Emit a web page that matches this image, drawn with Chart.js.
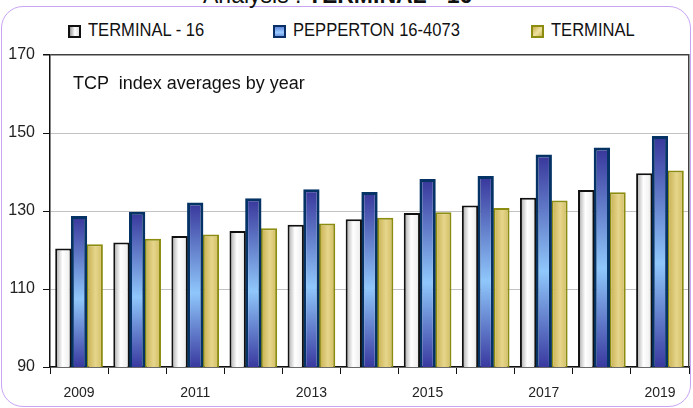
<!DOCTYPE html>
<html>
<head>
<meta charset="utf-8">
<script src="https://cdn.jsdelivr.net/npm/chart.js@4.4.7/dist/chart.umd.min.js"></script>
<style>
  html, body { margin: 0; padding: 0; background: #fff; }
  #wrap { position: relative; width: 693px; height: 408px; overflow: hidden; font-family: 'Liberation Sans', Arial, sans-serif; }
  #frame { position: absolute; left: 1px; top: 6px; width: 688px; height: 399px; border: 1.5px solid #c8a4f4; border-radius: 22px; }
  #title { position: absolute; left: 203px; top: -18px; font-size: 23px; color: #111; white-space: pre; }
  #title b { font-weight: bold; }
  .leg { position: absolute; top: 25px; height: 14px; }
  .leg i { position: absolute; left: 0; top: 0; width: 9px; height: 9px; border: 2px solid; }
  .leg span { position: absolute; left: 20px; top: -5px; font-size: 18px; color: #111; white-space: nowrap; transform: scaleX(0.92); transform-origin: left top; }
  #note { position: absolute; left: 73px; top: 73px; font-size: 18px; color: #111; white-space: pre; }
  canvas { position: absolute; left: 0; top: 0; }
</style>
</head>
<body>
<div id="wrap">
  <div id="frame"></div>
  <div id="title">Analysis : <b>TERMINAL - 16</b></div>
  <div class="leg" style="left:68px"><i style="border-color:#111;background:linear-gradient(90deg,#9a9a9a,#fff 55%,#ddd)"></i><span>TERMINAL - 16</span></div>
  <div class="leg" style="left:273px"><i style="border-color:#0a2f66;background:linear-gradient(180deg,#5f86d8,#9cccff 60%,#6f98e0)"></i><span>PEPPERTON 16-4073</span></div>
  <div class="leg" style="left:531px"><i style="border-color:#8c8c10;background:linear-gradient(135deg,#c9b04f,#efe2a0 55%,#cdb85c)"></i><span>TERMINAL</span></div>
  <canvas id="chart" width="693" height="408"></canvas>
  <div id="note">TCP  index averages by year</div>
</div>
<script>
// data
const YEARS = ['2009', '2010', '2011', '2012', '2013', '2014', '2015', '2016', '2017', '2018', '2019'];
const TERMINAL_16 = [120.4, 121.9, 123.6, 124.9, 126.5, 127.9, 129.5, 131.4, 133.4, 135.4, 139.7];
const PEPPERTON = [128.7, 129.8, 132.2, 133.3, 135.6, 134.9, 138.2, 139.0, 144.5, 146.3, 149.2];
const TERMINAL = [121.5, 122.9, 124.0, 125.6, 126.8, 128.3, 129.7, 130.8, 132.7, 134.8, 140.4];
const Y_TICKS = [90, 110, 130, 150, 170];

const CAT_PCT = 0.81;
const BAR_PCT = 1.04;
const TICK_FONT = { family: "'Liberation Sans', Arial, sans-serif", size: 16 };

// horizontal span of one bar, so each bar gets its own gradient
function barSpan(ctx) {
  const xs = ctx.chart.scales.x;
  const cx = xs.getPixelForValue(ctx.dataIndex);
  const groupW = (xs.width / YEARS.length) * CAT_PCT;
  const slot = groupW / 3;
  const mid = cx - groupW / 2 + (ctx.datasetIndex + 0.5) * slot;
  const half = (slot * BAR_PCT) / 2;
  return { left: mid - half, right: mid + half };
}

function whiteFill(ctx) {
  if (!ctx.chart.chartArea || ctx.type !== 'data') return '#eeeeee';
  const { left, right } = barSpan(ctx);
  const g = ctx.chart.ctx.createLinearGradient(left, 0, right, 0);
  g.addColorStop(0, '#8e8e8e');
  g.addColorStop(0.18, '#c9c9c9');
  g.addColorStop(0.45, '#ffffff');
  g.addColorStop(0.8, '#f1f1f1');
  g.addColorStop(1, '#d6d6d6');
  return g;
}

function blueFill(ctx) {
  if (!ctx.chart.chartArea || ctx.type !== 'data') return '#6f9be0';
  const ys = ctx.chart.scales.y;
  const top = ys.getPixelForValue(ctx.raw);
  const bot = ys.getPixelForValue(90);
  const g = ctx.chart.ctx.createLinearGradient(0, top, 0, bot);
  g.addColorStop(0, '#37359a');
  g.addColorStop(0.55, '#8fc7fb');
  g.addColorStop(1, '#39399f');
  return g;
}

function goldFill(ctx) {
  if (!ctx.chart.chartArea || ctx.type !== 'data') return '#d8c570';
  const { left, right } = barSpan(ctx);
  const g = ctx.chart.ctx.createLinearGradient(left, 0, right, 0);
  g.addColorStop(0, '#c6ad4c');
  g.addColorStop(0.55, '#e6d68c');
  g.addColorStop(1, '#d0bb5e');
  return g;
}

new Chart(document.getElementById('chart'), {
  type: 'bar',
  data: {
    labels: YEARS,
    datasets: [
      { label: 'TERMINAL - 16', data: TERMINAL_16, backgroundColor: whiteFill, borderColor: '#111111', borderWidth: 2 },
      { label: 'PEPPERTON 16-4073', data: PEPPERTON, backgroundColor: blueFill, borderColor: '#053366', borderWidth: 3 },
      { label: 'TERMINAL', data: TERMINAL, backgroundColor: goldFill, borderColor: '#8c8c10', borderWidth: 2 },
    ],
  },
  options: {
    responsive: false,
    animation: false,
    devicePixelRatio: 1,
    categoryPercentage: CAT_PCT,
    barPercentage: BAR_PCT,
    layout: { padding: { top: 55, right: 4, bottom: 0, left: 0 } },
    plugins: { legend: { display: false }, tooltip: { enabled: false } },
    scales: {
      x: {
        afterFit: (axis) => { axis.height = 41; },
        grid: { offset: true, drawOnChartArea: false, tickLength: 7, tickColor: '#111' },
        border: { color: '#111', width: 1.5 },
        ticks: {
          autoSkip: false,
          maxRotation: 0,
          padding: 11,
          color: '#222',
          font: { ...TICK_FONT, size: 14 },
          callback: (v, i) => (i % 2 === 0 ? YEARS[i] : ''),
        },
      },
      y: {
        min: 90,
        max: 170,
        afterBuildTicks: (axis) => { axis.ticks = Y_TICKS.map((value) => ({ value })); },
        afterFit: (axis) => { axis.width = 50; },
        grid: {
          tickLength: 7,
          tickColor: '#111',
          color: (c) => (c.tick && c.tick.value === 170 ? '#404040' : '#c2c2c2'),
          lineWidth: (c) => (c.tick && c.tick.value === 170 ? 1.5 : 1),
        },
        border: { color: '#111', width: 1.5 },
        ticks: { padding: 8, color: '#222', font: TICK_FONT },
      },
      y2: {
        position: 'right',
        min: 90,
        max: 170,
        grid: { drawOnChartArea: false, drawTicks: false },
        border: { color: '#404040', width: 1.5 },
        ticks: { display: false },
      },
    },
  },
});
</script>
</body>
</html>
